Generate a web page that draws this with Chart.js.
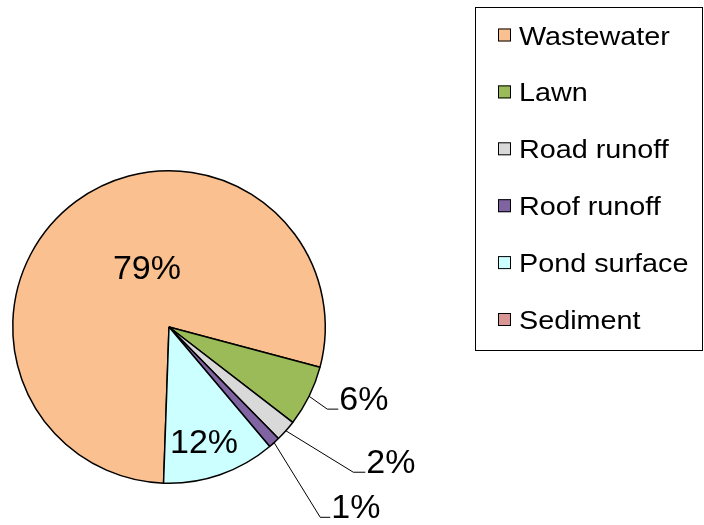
<!DOCTYPE html>
<html>
<head>
<meta charset="utf-8">
<script src="https://cdn.jsdelivr.net/npm/chart.js@4.4.0/dist/chart.umd.min.js"></script>
<style>
  html, body { margin: 0; padding: 0; background: #ffffff; }
  #wrap { width: 704px; height: 525px; position: relative; }
</style>
</head>
<body>
<div id="wrap"><canvas id="c" width="704" height="525"></canvas></div>
<script>
// ---- data ----
const categories = ["Wastewater", "Lawn", "Road runoff", "Roof runoff", "Pond surface", "Sediment"];
const shares = [78.6, 6.3, 2.2, 1.2, 11.7, 0];
const percentLabels = ["79%", "6%", "2%", "1%", "12%", ""];
const colors = ["#FAC090", "#9BBB59", "#D9D9D9", "#8064A2", "#CCFFFF", "#D99694"];

// ---- label placement (offsets from pie centre, in pixels at radius 156) ----
const R0 = 156;
const inside = { 0: [-22, -48], 4: [35, 126] };
const outside = {
  1: { elbow: [158, 82], end: [169, 82] },
  2: { elbow: [184, 145], end: [196, 145] },
  3: { elbow: [151, 190], end: [161, 190] }
};

const labelPlugin = {
  id: 'pieLabels',
  afterDatasetsDraw(chart) {
    const ctx = chart.ctx;
    const meta = chart.getDatasetMeta(0);
    ctx.save();
    ctx.fillStyle = '#000';
    ctx.font = '34px "Liberation Sans", Arial, sans-serif';
    meta.data.forEach((arc, i) => {
      const txt = percentLabels[i];
      if (!txt) return;
      const cx = arc.x, cy = arc.y, r = arc.outerRadius, k = r / R0;
      if (inside[i]) {
        ctx.textAlign = 'center';
        ctx.textBaseline = 'alphabetic';
        ctx.fillText(txt, cx + inside[i][0] * k, cy + inside[i][1] * k);
      } else if (outside[i]) {
        const mid = (arc.startAngle + arc.endAngle) / 2;
        const sx = cx + Math.cos(mid) * r, sy = cy + Math.sin(mid) * r;
        const ex = cx + outside[i].elbow[0] * k, ey = cy + outside[i].elbow[1] * k;
        const fx = cx + outside[i].end[0] * k, fy = cy + outside[i].end[1] * k;
        ctx.strokeStyle = '#000';
        ctx.lineWidth = 1;
        ctx.beginPath();
        ctx.moveTo(sx, sy);
        ctx.lineTo(ex, ey);
        ctx.lineTo(fx, fy);
        ctx.stroke();
        ctx.textAlign = 'left';
        ctx.textBaseline = 'alphabetic';
        ctx.fillText(txt, fx + 1, fy + 1);
      }
    });
    ctx.restore();
  }
};

const legendPlugin = {
  id: 'boxLegend',
  afterDraw(chart) {
    const ctx = chart.ctx;
    ctx.save();
    ctx.strokeStyle = '#000';
    ctx.lineWidth = 1;
    ctx.strokeRect(475.5, 7.5, 227, 343);
    ctx.font = '25px "Liberation Sans", Arial, sans-serif';
    ctx.textBaseline = 'alphabetic';
    ctx.textAlign = 'left';
    categories.forEach((name, i) => {
      const base = 44.5 + i * 56.9;
      const y = base - 9;
      ctx.fillStyle = colors[i];
      ctx.fillRect(498, y - 7, 13, 13);
      ctx.strokeStyle = '#000';
      ctx.lineWidth = 1;
      ctx.strokeRect(498.5, y - 6.5, 12, 12);
      ctx.fillStyle = '#000';
      ctx.save();
      ctx.translate(519, base);
      ctx.scale(1.15, 1);
      ctx.fillText(name, 0, 0);
      ctx.restore();
    });
    ctx.restore();
  }
};

new Chart(document.getElementById('c'), {
  type: 'pie',
  data: {
    labels: categories,
    datasets: [{
      data: shares,
      backgroundColor: colors,
      borderColor: '#000000',
      borderWidth: 1.5,
      hoverOffset: 0,
      borderAlign: 'center'
    }]
  },
  options: {
    responsive: false,
    animation: false,
    rotation: 182,
    layout: { padding: { left: 12, top: 170, right: 378, bottom: 41 } },
    plugins: {
      legend: { display: false },
      tooltip: { enabled: false }
    }
  },
  plugins: [labelPlugin, legendPlugin]
});
</script>
</body>
</html>
